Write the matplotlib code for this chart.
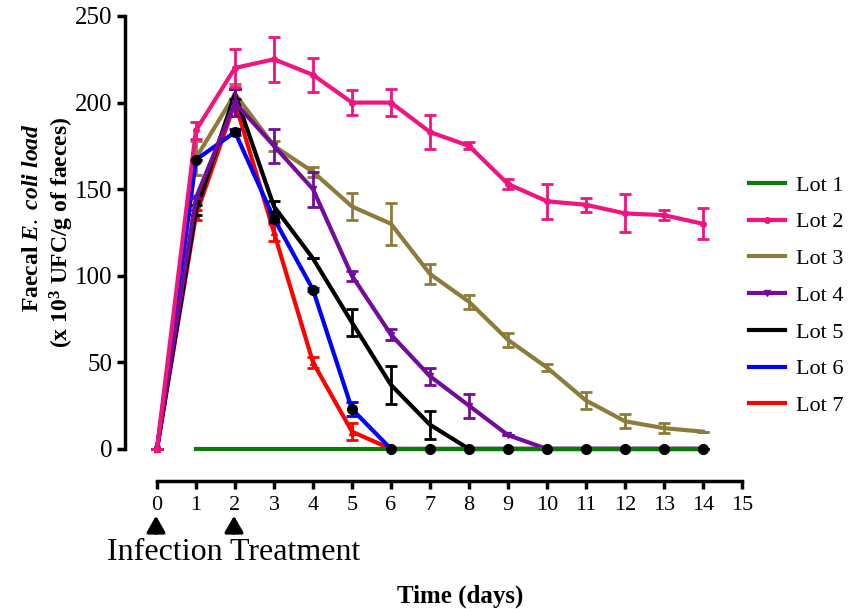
import numpy as np
import matplotlib
matplotlib.use('Agg')
import matplotlib.pyplot as plt
from matplotlib.lines import Line2D

plt.rcParams['font.family'] = ['Liberation Serif', 'DejaVu Serif']
plt.rcParams['mathtext.fontset'] = 'custom'
plt.rcParams['mathtext.rm'] = 'Liberation Serif'
plt.rcParams['mathtext.it'] = 'Liberation Serif:italic:bold'
plt.rcParams['mathtext.bf'] = 'Liberation Serif:bold'

days = np.arange(0, 15)
nan = np.nan

lot1 = [nan, 0, 0, 0, 0, 0, 0, 0, 0, 0, 0, 0, 0, 0, 0]
lot2 = [0, 184, 220, 225, 216, 200, 200, 183, 175, 153, 143, 141, 136, 135, 130]
lot2_err = [0, 5, 11, 13, 10, 7, 8, 10, 2, 3, 10, 4, 11, 3, 9]
lot3 = [0, 168, 205, 175, 160, 140, 130, 101, 85, 63, 47, 28, 16, 12, 10]
lot3_err = [0, 10, 6, 3, 3, 8, 12, 6, 4, 4, 2, 5, 4, 3, 0]
lot4 = [0, 145, 200, 175, 150, 100, 66, 42, 25, 8, 0, 0, 0, 0, 0]
lot4_err = [0, 0, 8, 10, 10, 3, 3, 5, 7, 0, 0, 0, 0, 0, 0]
lot5 = [0, 138, 205, 140, 110, 73, 37, 14, 0, 0, 0, 0, 0, 0, 0]
lot5_err = [0, 3, 3, 3, 0, 8, 11, 8, 0, 0, 0, 0, 0, 0, 0]
lot6 = [0, 167, 183, 133, 92, 23, 0, 0, 0, 0, 0, 0, 0, 0, 0]
lot6_err = [0, 0, 2, 2, 1, 4, 0, 0, 0, 0, 0, 0, 0, 0, 0]
lot7 = [0, 135, 200, 125, 50, 10, 0, 0, 0, 0, 0, 0, 0, 0, 0]
lot7_err = [0, 3, 8, 5, 3, 5, 0, 0, 0, 0, 0, 0, 0, 0, 0]

labels = ['Lot 1', 'Lot 2', 'Lot 3', 'Lot 4', 'Lot 5', 'Lot 6', 'Lot 7']
colors = ['#0a7a0a', '#f0147f', '#8c7b3a', '#720c9a', '#000000', '#0000ff', '#ff0000']

fig = plt.figure(figsize=(8.55, 6.09), dpi=100)
ax = fig.add_axes([125 / 855, 128 / 609, (742 - 125) / 855, (481 - 16) / 609])

lw = 3
ek = dict(capsize=4, elinewidth=2, capthick=2, clip_on=False)

# draw back to front
ax.errorbar(days, lot7, yerr=lot7_err, color=colors[6], lw=lw, marker='^', ms=4, zorder=2, **ek)
ax.errorbar(days, lot6, yerr=lot6_err, color=colors[5], lw=lw, zorder=3, **ek)
ax.errorbar(days, lot5, yerr=lot5_err, color=colors[4], lw=lw, zorder=4, **ek)
ax.errorbar(days, lot4, yerr=lot4_err, color=colors[3], lw=lw, marker='v', ms=4, zorder=5, **ek)
ax.errorbar(days, lot3, yerr=lot3_err, color=colors[2], lw=lw, zorder=1.5, **ek)
ax.errorbar(days, lot2, yerr=lot2_err, color=colors[1], lw=lw, marker='o', ms=4, zorder=6, **ek)
ax.plot(days, lot1, color=colors[0], lw=lw, zorder=7, clip_on=False)
# black circle markers of Lot 6
ax.plot(days[1:], lot6[1:], ls='none', marker='o', ms=7, mfc='black', mec='black',
        zorder=8, clip_on=False)

ax.set_xlim(-0.82, 15)
ax.set_ylim(-18.5, 250)
ax.set_xticks(range(0, 16))
ax.set_yticks([0, 50, 100, 150, 200, 250])
for s in ['top', 'right']:
    ax.spines[s].set_visible(False)
ax.spines['left'].set_bounds(0, 250)
ax.spines['bottom'].set_bounds(0, 15)
ax.spines['left'].set_linewidth(2.5)
ax.spines['bottom'].set_linewidth(2.5)
ax.tick_params(axis='both', direction='out', length=6, width=2.5)
ax.tick_params(axis='y', labelsize=18, pad=3)
ax.tick_params(axis='x', labelsize=16, pad=5)

# y label
fig.text(33 / 855, 1 - 218 / 609, 'Faecal $\\mathit{E.\\ coli\\ load}$', rotation=90,
         ha='center', va='center', fontsize=17, fontweight='bold')
fig.text(62 / 855, 1 - 232 / 609, '(x 10$^{\\mathbf{3}}$ UFC/g of faeces)', rotation=90,
         ha='center', va='center', fontsize=17, fontweight='bold')
fig.text(460 / 855, 1 - 596 / 609, 'Time (days)', ha='center', va='center',
         fontsize=18, fontweight='bold')

# arrows for infection / treatment
for xd in [156, 234]:
    fig.add_artist(matplotlib.patches.FancyArrowPatch(
        (xd / 855, 1 - 536 / 609), (xd / 855, 1 - 513 / 609),
        transform=fig.transFigure, arrowstyle='-|>,head_length=0.7,head_width=0.4',
        mutation_scale=14, color='black', lw=2.5))
fig.text(107 / 855, 1 - 552 / 609, 'Infection Treatment', ha='left', va='center', fontsize=23)

handles = []
mk = [None, 'o', None, 'v', None, None, None]
for c, m, lab in zip(colors, mk, labels):
    handles.append(Line2D([], [], color=c, lw=lw, marker=m, ms=4, label=lab))
fig.legend(handles=handles, loc='upper left', bbox_to_anchor=(729 / 855, 1 - 155 / 609),
           frameon=False, fontsize=16, handlelength=1.6, labelspacing=0.73, handletextpad=0.5)

fig.savefig('out.png', dpi=100)
